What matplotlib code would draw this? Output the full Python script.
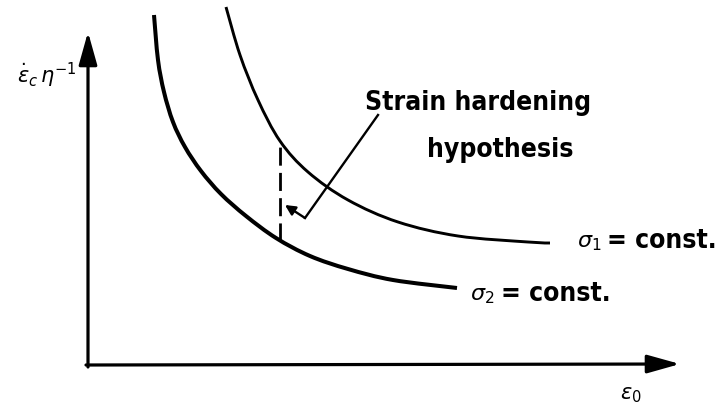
import matplotlib
matplotlib.use("Agg")
import matplotlib.pyplot as plt
from matplotlib import font_manager
from matplotlib.path import Path
from matplotlib.patches import PathPatch

# Schematic creep curves: strain rate vs accumulated strain (arbitrary units)
sigma1_x = [13.8, 15.2, 17.0, 19.2, 22.0, 26.0, 31.0, 37.0, 44.0, 46.2]
sigma1_y = [35.8, 31.0, 26.5, 22.4, 19.3, 16.5, 14.3, 12.9, 12.3, 12.2]

sigma2_x = [6.6, 7.0, 7.6, 8.5, 9.7, 11.3, 13.3, 15.8, 18.8, 22.2, 26.0, 30.5, 36.9]
sigma2_y = [35.0, 30.5, 27.3, 24.3, 21.8, 19.4, 17.1, 14.9, 12.7, 10.9, 9.6, 8.5, 7.7]

# strain-hardening jump between the two curves at equal strain
jump_x = 19.2
jump_y = [12.4, 21.9]

# leader line from the note to the arrow tip
leader_x = [29.0, 21.7]
leader_y = [25.0, 14.7]
arrow_tip = (19.7, 16.0)

x_axis_end = 59.2
y_axis_end = 33.3


def smooth_path(xs, ys):
    """Catmull-Rom through the given points, as cubic Bezier segments."""
    pts = list(zip(xs, ys))
    verts = [pts[0]]
    codes = [Path.MOVETO]
    for i in range(len(pts) - 1):
        p0 = pts[i - 1] if i > 0 else pts[i]
        p1, p2 = pts[i], pts[i + 1]
        p3 = pts[i + 2] if i + 2 < len(pts) else pts[i + 1]
        c1 = (p1[0] + (p2[0] - p0[0]) / 6, p1[1] + (p2[1] - p0[1]) / 6)
        c2 = (p2[0] - (p3[0] - p1[0]) / 6, p2[1] - (p3[1] - p1[1]) / 6)
        verts += [c1, c2, p2]
        codes += [Path.CURVE4] * 3
    return Path(verts, codes)


# narrow lettering if a condensed face is around
names = {(f.name, f.stretch) for f in font_manager.fontManager.ttflist}
if ("DejaVu Sans", "condensed") in names or ("DejaVu Sans", 75) in names:
    font = dict(family="DejaVu Sans", stretch="condensed", weight="bold",
                fontsize=19)
else:
    font = dict(family="DejaVu Sans", fontsize=17)

fig = plt.figure(figsize=(7.28, 4.04), dpi=100)
ax = fig.add_axes([0, 0, 1, 1])
ax.set_xlim(-8.8, 64.0)
ax.set_ylim(-3.9, 36.5)
ax.axis("off")

ax.add_patch(PathPatch(smooth_path(sigma1_x, sigma1_y), fill=False,
                       edgecolor="black", lw=2.1, capstyle="butt"))
ax.add_patch(PathPatch(smooth_path(sigma2_x, sigma2_y), fill=False,
                       edgecolor="black", lw=2.9, capstyle="butt"))
ax.plot([jump_x, jump_x], jump_y, color="black", lw=2.0,
        dashes=(6.5, 2.6))

ax.plot(leader_x, leader_y, color="black", lw=1.7, solid_joinstyle="miter")
ax.annotate("", xy=arrow_tip, xytext=(leader_x[-1], leader_y[-1]),
            arrowprops=dict(arrowstyle="-|>,head_length=0.6,head_width=0.3",
                            color="black", lw=1.7, shrinkA=0, shrinkB=0))

# axes drawn as arrows
arrow_kw = dict(arrowstyle="-|>,head_length=1.0,head_width=0.28",
                color="black", lw=2.3, shrinkA=0, shrinkB=0, mutation_scale=20)
ax.annotate("", xy=(0, y_axis_end), xytext=(0, -0.2), arrowprops=arrow_kw)
ax.annotate("", xy=(x_axis_end, 0.1), xytext=(-0.2, 0.0), arrowprops=arrow_kw)

ax.text(27.7, 25.5, "Strain hardening", va="baseline", ha="left", **font)
ax.text(33.9, 20.8, "hypothesis", va="baseline", ha="left", **font)

# curve labels: stress symbol, then the text
ax.text(48.9, 11.8, r"$\sigma_1$", va="baseline", ha="left", fontsize=16)
ax.text(51.9, 11.7, "= const.", va="baseline", ha="left", **font)
ax.text(38.2, 6.5, r"$\sigma_2$", va="baseline", ha="left", fontsize=16)
ax.text(41.3, 6.4, "= const.", va="baseline", ha="left", **font)

ax.text(-7.1, 28.2, r"$\dot{\epsilon}_c\,\eta^{-1}$", va="baseline", ha="left",
        fontsize=15)
ax.text(53.2, -3.4, r"$\epsilon_0$", va="baseline", ha="left", fontsize=15)

fig.savefig("out.png", dpi=100, facecolor="white")
